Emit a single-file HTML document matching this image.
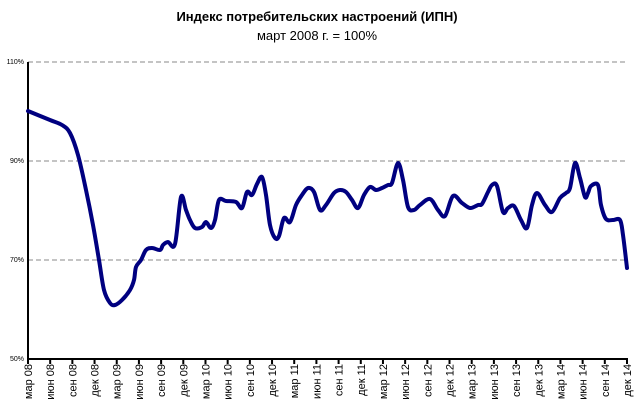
<!DOCTYPE html>
<html><head><meta charset="utf-8"><style>
body{margin:0;background:#fff;width:635px;height:410px;overflow:hidden}
svg text{font-family:"Liberation Sans",sans-serif}
</style></head><body>
<svg width="635" height="410" xmlns="http://www.w3.org/2000/svg">
<text x="317" y="21" text-anchor="middle" font-size="13" font-weight="bold">Индекс потребительских настроений (ИПН)</text>
<text x="317" y="40" text-anchor="middle" font-size="13">март 2008 г. = 100%</text>
<g stroke="#888" stroke-dasharray="5,3" stroke-width="1">
<line x1="28" y1="62" x2="628" y2="62"/><line x1="28" y1="161" x2="628" y2="161"/><line x1="28" y1="260" x2="628" y2="260"/>
</g>
<g font-size="7" text-anchor="end" fill="#000">
<text x="24" y="64">110%</text><text x="24" y="163">90%</text><text x="24" y="262">70%</text><text x="24" y="361">50%</text>
</g>
<line x1="28" y1="62" x2="28" y2="360" stroke="#000" stroke-width="2"/>
<line x1="27" y1="359" x2="628" y2="359" stroke="#000" stroke-width="2"/>
<g id="ticks" stroke="#000" stroke-width="2"></g>
<g id="labs" font-size="11" fill="#000"></g>
<path id="ln" fill="none" stroke="#000080" stroke-width="4" stroke-linejoin="round" stroke-linecap="round"/>
</svg>
<script>
var m=["мар","июн","сен","дек"],t=document.getElementById("ticks"),l=document.getElementById("labs"),ns="http://www.w3.org/2000/svg";
for(var i=0;i<28;i++){var x=28+i*(599/27);
var ln=document.createElementNS(ns,"line");ln.setAttribute("x1",x);ln.setAttribute("x2",x);ln.setAttribute("y1",359);ln.setAttribute("y2",364);t.appendChild(ln);
var yr=8+Math.floor(i/4);var s=m[i%4]+" "+(yr<10?"0"+yr:yr);
var tx=document.createElementNS(ns,"text");tx.setAttribute("transform","translate("+(x+4)+",364) rotate(-90)");tx.setAttribute("text-anchor","end");tx.textContent=s;l.appendChild(tx);}
var p="28,111 50,120 62,125 70,133 78,155 86,190 93,225 99,260 104,290 110,303 115,305 122,300 130,290 134,280 136,267 141,260 146,250 152,248 160,250 163,245 168,242 175,244 181,197 186,210 190,220 195,228 202,227 206,222 211,228 215,220 219,200 226,201 236,202 242,208 247,192 252,195 257,184 262,177 266,195 270,225 275,238 279,236 284,218 290,222 296,205 302,195 308,188 314,192 320,210 326,205 334,193 340,190 346,192 352,200 358,208 364,195 370,187 376,190 382,188 388,185 392,183 398,163 403,180 408,207 414,210 420,205 430,199 438,210 445,216 453,196 462,203 470,208 478,205 482,204 488,192 492,185 497,186 503,212 508,208 514,206 521,220 527,228 532,205 537,193 545,205 552,212 560,198 566,193 570,188 575,163 580,178 585,197 588,193 591,186 598,185 601,205 606,219 613,220 620,220 623,235 627,268".split(" ").map(function(a){return a.split(",").map(Number)});
var d="M"+p[0];for(var k=0;k<p.length-1;k++){var a=p[k>0?k-1:0],b=p[k],c=p[k+1],e=p[k+2<p.length?k+2:k+1];
d+=" C"+(b[0]+(c[0]-a[0])/6)+","+(b[1]+(c[1]-a[1])/6)+" "+(c[0]-(e[0]-b[0])/6)+","+(c[1]-(e[1]-b[1])/6)+" "+c[0]+","+c[1];}
document.getElementById("ln").setAttribute("d",d);
</script>
</body></html>
